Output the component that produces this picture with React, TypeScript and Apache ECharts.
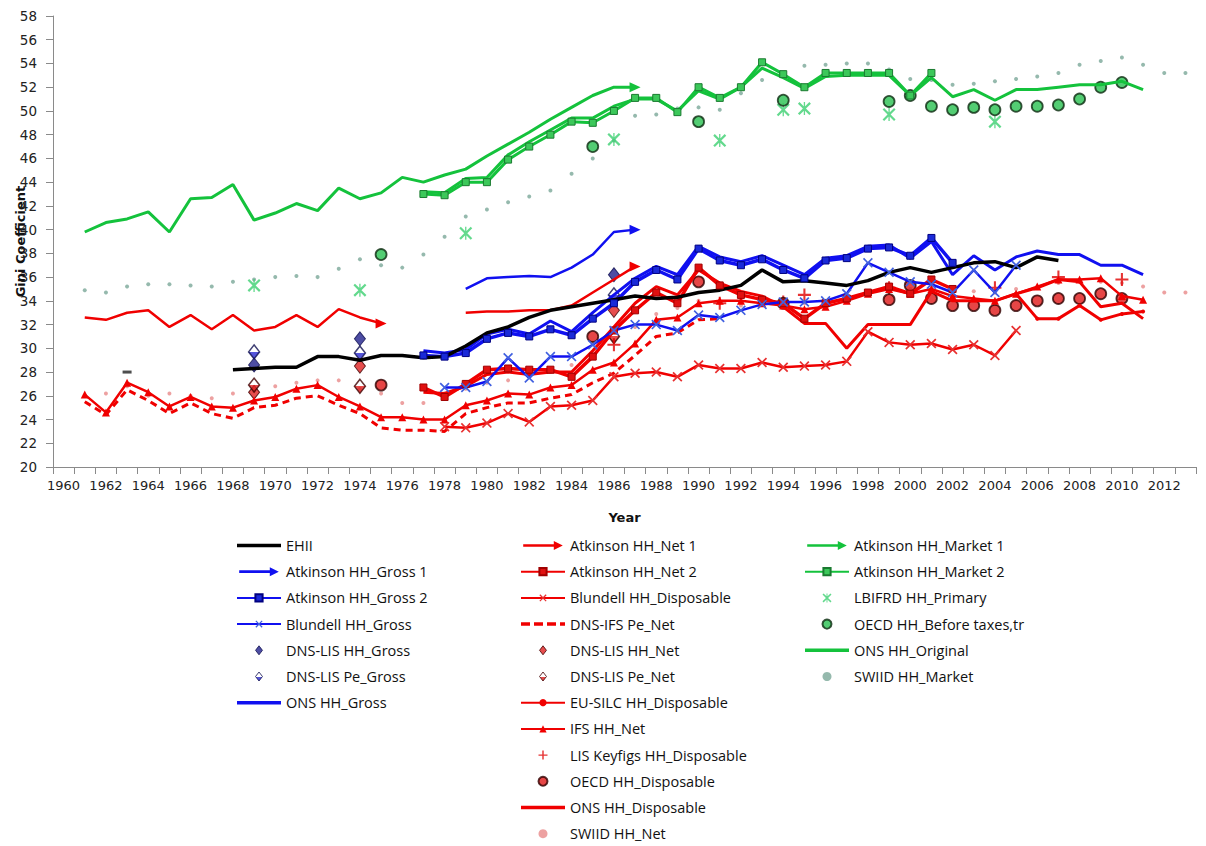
import React, { useEffect, useRef } from "react";
import * as echarts from "echarts";

const FIRST_YEAR = 1960;
const LAST_YEAR = 2013;
const years: string[] = [];
for (let y = FIRST_YEAR; y <= LAST_YEAR; y++) years.push(String(y));

// ---- Blue (gross) ----
const ehiiStart = 1968;
const ehii = [28.2, 28.3, 28.4, 28.4, 29.3, 29.3, 29.0, 29.4, 29.4, 29.2, 29.3, 30.2, 31.3, 31.8, 32.6, 33.2, 33.5, 33.8, 34.1, 34.4, 34.2, 34.3, 34.7, 34.9, 35.3, 36.6, 35.6, 35.7, 35.5, 35.3, 35.7, 36.4, 36.8, 36.4, 36.8, 37.2, 37.3, 36.8, 37.7, 37.4];
const ehiiIsolatedYears = [1963];
const ehiiIsolatedValues = [28.0];

const atkGross1Start = 1979;
const atkGross1 = [35.0, 35.9, 36.0, 36.1, 36.0, 36.8, 37.9, 39.8, 40.0];

const atkGross2Start = 1977;
const atkGross2 = [29.4, 29.3, 29.6, 30.8, 31.3, 31.0, 31.6, 31.1, 32.5, 33.8, 35.6, 36.6, 35.8, 38.4, 37.4, 37.0, 37.5, 36.6, 35.9, 37.4, 37.6, 38.4, 38.5, 37.8, 39.3, 37.2];

const blundellGrossStart = 1978;
const blundellGross = [26.7, 26.7, 27.2, 29.2, 27.5, 29.3, 29.3, 30.3, 31.5, 32.0, 32.0, 31.5, 32.8, 32.6, 33.2, 33.7, 33.9, 33.9, 34.0, 34.6, 37.2, 36.4, 35.6, 35.4, 34.7, 36.6, 34.7, 37.0];

const dnsLisHHGrossYears = [1969, 1974, 1986];
const dnsLisHHGross = [28.6, 30.8, 36.2];
const dnsLisPeGrossYears = [1969, 1974, 1986];
const dnsLisPeGross = [29.7, 29.6, 34.5];

const onsGrossStart = 1977;
const onsGross = [29.8, 29.6, 29.9, 31.2, 31.6, 31.2, 32.3, 31.4, 33.0, 34.5, 35.9, 36.9, 36.2, 38.6, 37.7, 37.3, 37.8, 37.0, 36.2, 37.6, 37.8, 38.6, 38.7, 37.6, 39.0, 36.2, 37.8, 36.6, 37.7, 38.2, 37.9, 37.9, 37.0, 37.0, 36.2];

// ---- Red (net / disposable) ----
const atkNet1Start = 1961;
const atkNet1 = [32.6, 32.4, 33.0, 33.2, 31.8, 32.8, 31.6, 32.8, 31.5, 31.8, 32.8, 31.8, 33.3, 32.6, 32.1, null, null, null, 33.0, 33.1, 33.1, 33.2, 33.2, 33.6, 34.7, 35.8, 36.9];

const atkNet2Start = 1977;
const atkNet2 = [26.7, 25.9, 27.0, 28.2, 28.3, 28.2, 28.2, 27.6, 29.3, 31.5, 33.2, 34.7, 33.8, 36.8, 35.3, 34.5, 34.1, 33.8, 32.5, 33.8, 34.2, 34.7, 35.2, 34.6, 35.8, 35.0];

const blundellDispStart = 1978;
const blundellDisp = [23.4, 23.3, 23.7, 24.5, 23.8, 25.1, 25.2, 25.6, 27.6, 27.9, 28.0, 27.6, 28.6, 28.3, 28.3, 28.8, 28.4, 28.5, 28.6, 28.9, 31.4, 30.5, 30.3, 30.4, 29.9, 30.3, 29.4, 31.5];

const dnsIfsPeNetStart = 1961;
const dnsIfsPeNet = [25.5, 24.4, 26.5, 25.6, 24.5, 25.4, 24.5, 24.1, 25.0, 25.2, 25.8, 26.0, 25.2, 24.5, 23.3, 23.1, 23.1, 23.0, 24.5, 25.0, 25.4, 25.4, 25.8, 26.1, 27.1, 27.9, 29.4, 31.0, 31.3, 32.4, 32.5];

const dnsLisHHNetYears = [1969, 1974, 1986];
const dnsLisHHNet = [26.3, 28.5, 33.2];
const dnsLisPeNetYears = [1969, 1974, 1986];
const dnsLisPeNet = [26.9, 26.8, 31.0];

const euSilcStart = 2005;
const euSilc = [34.6, 32.5, 32.5, 33.6, 32.4, 32.9, 33.1];

const ifsNetStart = 1961;
const ifsNet = [26.1, 24.6, 27.1, 26.3, 25.1, 25.9, 25.1, 25.0, 25.6, 25.9, 26.6, 26.9, 25.9, 25.1, 24.2, 24.2, 24.0, 24.0, 25.2, 25.6, 26.2, 26.1, 26.7, 26.9, 28.2, 28.8, 30.4, 32.4, 32.6, 33.8, 34.0, 34.0, 33.8, 33.6, 33.3, 33.5, 34.0, 34.6, 35.0, 34.6, 35.0, 34.4, 34.2, 34.0, 34.6, 35.2, 35.8, 35.8, 35.9, 34.4, 34.1];

const lisKeyfigsYears = [1986, 1991, 1994, 1995, 1999, 2004, 2007, 2010];
const lisKeyfigs = [30.3, 33.8, 33.9, 34.5, 35.1, 35.1, 36.0, 35.8];

const oecdDispYears = [1975, 1985, 1990, 1994, 1999, 2000, 2001, 2002, 2003, 2004, 2005, 2006, 2007, 2008, 2009, 2010];
const oecdDisp = [26.9, 31.0, 35.6, 33.8, 34.1, 35.3, 34.2, 33.6, 33.6, 33.2, 33.6, 34.0, 34.2, 34.2, 34.6, 34.2];

const onsDispStart = 1977;
const onsDisp = [26.3, 26.2, 26.8, 27.8, 28.0, 27.8, 28.0, 28.0, 29.8, 31.8, 33.8, 35.2, 34.5, 36.6, 35.5, 34.8, 34.4, 33.5, 32.1, 32.1, 30.0, 32.0, 32.0, 32.0, 34.8, 34.0, 34.0, 34.0, 34.6, 35.1, 35.8, 35.6, 33.5, 33.8, 32.5];

const swiidNetStart = 1961;
const swiidNet = [26.0, 26.2, 26.8, 26.0, 26.2, 26.0, 25.8, 26.2, 26.4, 26.8, 27.1, 27.3, 27.3, 26.6, 26.2, 25.4, 25.4, 26.2, 26.6, 27.1, 27.3, 27.8, 28.0, 28.6, 29.5, 30.6, 31.8, 32.9, 33.4, 34.0, 33.8, 33.6, 33.8, 34.0, 33.8, 34.0, 34.3, 34.5, 34.8, 35.0, 35.2, 35.0, 34.8, 34.8, 35.0, 35.2, 35.5, 35.6, 35.6, 35.5, 35.2, 34.7, 34.7];

// ---- Green (market / original) ----
const atkMarket1Start = 1961;
const atkMarket1 = [39.8, 40.6, 40.9, 41.5, 39.8, 42.6, 42.7, 43.8, 40.8, 41.4, 42.2, 41.6, 43.5, 42.6, 43.1, 44.4, 44.0, 44.6, 45.1, 46.2, 47.2, 48.2, 49.3, 50.3, 51.3, 52.0, 52.0];

const atkMarket2Start = 1977;
const atkMarket2 = [43.0, 42.9, 44.0, 44.0, 45.9, 47.0, 48.0, 49.1, 49.0, 50.0, 51.1, 51.1, 49.9, 52.0, 51.1, 52.0, 54.1, 53.1, 52.0, 53.2, 53.2, 53.2, 53.2, 51.3, 53.2];

const lbifrdYears = [1969, 1974, 1979, 1986, 1991, 1994, 1995, 1999, 2004];
const lbifrd = [35.3, 34.9, 39.7, 47.6, 47.5, 50.1, 50.2, 49.7, 49.1];

const oecdBeforeYears = [1975, 1985, 1990, 1994, 1999, 2000, 2001, 2002, 2003, 2004, 2005, 2006, 2007, 2008, 2009, 2010];
const oecdBefore = [37.9, 47.0, 49.1, 50.9, 50.8, 51.3, 50.4, 50.1, 50.3, 50.1, 50.4, 50.4, 50.5, 51.0, 52.0, 52.4];

const onsOriginalStart = 1977;
const onsOriginal = [43.2, 43.1, 44.3, 44.4, 46.3, 47.4, 48.4, 49.4, 49.4, 50.4, 51.0, 51.0, 50.0, 51.7, 51.0, 52.0, 53.6, 52.8, 51.9, 52.9, 53.0, 53.0, 53.0, 51.3, 52.8, 51.2, 51.8, 50.9, 51.8, 51.8, 52.0, 52.2, 52.2, 52.5, 51.8];

const swiidMarketStart = 1961;
const swiidMarket = [34.9, 34.7, 35.2, 35.4, 35.4, 35.3, 35.2, 35.6, 35.8, 36.0, 36.1, 36.0, 36.7, 37.5, 37.0, 36.8, 37.9, 39.4, 41.1, 41.7, 42.3, 42.8, 43.3, 44.7, 46.0, 47.5, 49.6, 49.7, 50.2, 50.3, 50.1, 51.5, 52.6, 53.2, 53.8, 53.9, 54.0, 54.0, 53.5, 52.7, 52.6, 52.2, 52.3, 52.5, 52.7, 52.9, 53.2, 53.9, 54.2, 54.5, 53.9, 53.2, 53.2];

const yTicks = { min: 20, max: 58, interval: 2 };

// ---- colours ----
const GREEN = "#14c23c";
const BLUE = "#1010f0";
const RED = "#f00000";
const BLACK = "#000000";

// ---- helpers ----
function place(start: number, values: (number | null)[]): (number | null)[] {
  const arr: (number | null)[] = years.map(() => null);
  values.forEach((v, i) => {
    arr[start - FIRST_YEAR + i] = v;
  });
  return arr;
}
function withArrows(arr: (number | null)[]) {
  return arr.map((v, i) => {
    if (v == null) return null;
    const next = i + 1 < arr.length ? arr[i + 1] : null;
    if (next == null) {
      return { value: v, symbol: "triangle", symbolSize: [10, 11], symbolRotate: -90 };
    }
    return v;
  });
}
function pts(yrs: number[], vals: number[]) {
  return yrs.map((y, i) => [String(y), vals[i]]);
}
function consecutive(start: number, count: number): number[] {
  const out: number[] = [];
  for (let i = 0; i < count; i++) out.push(start + i);
  return out;
}

const X_SYM = "path://M0,1.2L1.2,0L5,3.8L8.8,0L10,1.2L6.2,5L10,8.8L8.8,10L5,6.2L1.2,10L0,8.8L3.8,5Z";
const PLUS_SYM = "path://M4.2,0H5.8V4.2H10V5.8H5.8V10H4.2V5.8H0V4.2H4.2Z";
const AST_SYM = "path://M4.5,0H5.5V10H4.5Z M0,1.2L1.2,0L5,3.8L8.8,0L10,1.2L6.2,5L10,8.8L8.8,10L5,6.2L1.2,10L0,8.8L3.8,5Z";
const ARROW_ICON = "path://M0,3.5L34,3.5L34,0L44,5L34,10L34,6.5L0,6.5Z";
const LINE_ICON = "path://M0,0H44V3.5H0Z";
const DASH_ICON = "path://M0,0H9V3.5H0Z M13,0H22V3.5H13Z M26,0H35V3.5H26Z M39,0H44V3.5H39Z";
const DIAMOND_ICON = "path://M5,0L10,6.5L5,13L0,6.5Z";

function halfFill(top: string, bottom: string) {
  return new echarts.graphic.LinearGradient(0, 0, 0, 1, [
    { offset: 0, color: top },
    { offset: 0.5, color: top },
    { offset: 0.5, color: bottom },
    { offset: 1, color: bottom },
  ]);
}

function lineSeries(name: string, color: string, data: any[], extra: any = {}) {
  const { lineStyle, itemStyle, ...rest } = extra;
  return {
    type: "line",
    name,
    data,
    color,
    symbol: "none",
    showSymbol: true,
    connectNulls: false,
    lineStyle: { width: 3, color, ...(lineStyle || {}) },
    itemStyle: { color, ...(itemStyle || {}) },
    ...rest,
  };
}
function scatterSeries(name: string, color: string, data: any[], symbol: string, size: any, itemStyle: any = {}) {
  return {
    type: "scatter",
    name,
    data,
    color,
    symbol,
    symbolSize: size,
    itemStyle: { color, ...itemStyle },
  };
}

export default function App() {
  const ref = useRef<HTMLDivElement>(null);

  useEffect(() => {
    document.body.style.margin = "0";
    if (!ref.current) return;
    const chart = echarts.init(ref.current, undefined, { renderer: "svg" });

    const series: any[] = [
      lineSeries("DNS-IFS Pe_Net", RED, place(dnsIfsPeNetStart, dnsIfsPeNet), { lineStyle: { type: [7, 5], width: 3 } }),
      lineSeries("IFS HH_Net", RED, place(ifsNetStart, ifsNet), { symbol: "triangle", symbolSize: 8, lineStyle: { width: 2.5 } }),
      lineSeries("Blundell HH_Disposable", RED, place(blundellDispStart, blundellDisp), { symbol: X_SYM, symbolSize: 10, lineStyle: { width: 2.5 }, itemStyle: { color: "#e83030" } }),
      lineSeries("Atkinson HH_Net 1", RED, withArrows(place(atkNet1Start, atkNet1)), { symbolSize: 0, lineStyle: { width: 2.5 } }),
      lineSeries("Atkinson HH_Net 2", RED, place(atkNet2Start, atkNet2), { symbol: "rect", symbolSize: 7, lineStyle: { width: 3.5 }, itemStyle: { color: "#e01010", borderColor: "#a00000", borderWidth: 1 } }),
      lineSeries("ONS HH_Disposable", RED, place(onsDispStart, onsDisp), { lineStyle: { width: 3 } }),
      lineSeries("EU-SILC HH_Disposable", RED, place(euSilcStart, euSilc), { symbol: "circle", symbolSize: 4, lineStyle: { width: 3 } }),
      scatterSeries("SWIID HH_Net", "#e88a8a", pts(consecutive(swiidNetStart, swiidNet.length), swiidNet), "circle", 4),
      lineSeries("Blundell HH_Gross", BLUE, place(blundellGrossStart, blundellGross), { symbol: X_SYM, symbolSize: 10, lineStyle: { width: 2.5 }, itemStyle: { color: "#4060e0" } }),
      lineSeries("Atkinson HH_Gross 2", BLUE, place(atkGross2Start, atkGross2), { symbol: "rect", symbolSize: 7, lineStyle: { width: 3.5 }, itemStyle: { color: "#1a2ad8", borderColor: "#000080", borderWidth: 1 } }),
      lineSeries("ONS HH_Gross", BLUE, place(onsGrossStart, onsGross), { lineStyle: { width: 3 } }),
      lineSeries("Atkinson HH_Gross 1", BLUE, withArrows(place(atkGross1Start, atkGross1)), { symbolSize: 0, lineStyle: { width: 2.5 } }),
      lineSeries("EHII", BLACK, place(ehiiStart, ehii), { lineStyle: { width: 3.5 } }),
      {
        type: "scatter",
        name: "EHII",
        data: pts(ehiiIsolatedYears, ehiiIsolatedValues),
        symbol: "rect",
        symbolSize: [9, 3],
        itemStyle: { color: "#222" },
      },
      scatterSeries("SWIID HH_Market", "#7aa898", pts(consecutive(swiidMarketStart, swiidMarket.length), swiidMarket), "circle", 4),
      lineSeries("Atkinson HH_Market 1", GREEN, withArrows(place(atkMarket1Start, atkMarket1)), { symbolSize: 0, lineStyle: { width: 3 } }),
      lineSeries("ONS HH_Original", GREEN, place(onsOriginalStart, onsOriginal), { lineStyle: { width: 3 } }),
      lineSeries("Atkinson HH_Market 2", GREEN, place(atkMarket2Start, atkMarket2), { symbol: "rect", symbolSize: 7, lineStyle: { width: 3 }, itemStyle: { color: "#3cc85a", borderColor: "#1a7a30", borderWidth: 1 } }),
      scatterSeries("LBIFRD HH_Primary", "#3ccf70", pts(lbifrdYears, lbifrd), AST_SYM, 13),
      scatterSeries("OECD HH_Before taxes,tr", "#28c050", pts(oecdBeforeYears, oecdBefore), "circle", 11, { borderColor: "#0c2a10", borderWidth: 1.8 }),
      scatterSeries("DNS-LIS HH_Gross", "#20208c", pts(dnsLisHHGrossYears, dnsLisHHGross), "diamond", [11, 14], { borderColor: "#101050", borderWidth: 1 }),
      scatterSeries("DNS-LIS Pe_Gross", "#20208c", pts(dnsLisPeGrossYears, dnsLisPeGross), "diamond", [11, 14], { color: halfFill("#ffffff", "#2a2ad0"), borderColor: "#101050", borderWidth: 1.5 }),
      scatterSeries("DNS-LIS HH_Net", "#c01818", pts(dnsLisHHNetYears, dnsLisHHNet), "diamond", [11, 14], { color: "#e02020", borderColor: "#400000", borderWidth: 1 }),
      scatterSeries("DNS-LIS Pe_Net", "#c01818", pts(dnsLisPeNetYears, dnsLisPeNet), "diamond", [11, 14], { color: halfFill("#ffffff", "#e02020"), borderColor: "#400000", borderWidth: 1.5 }),
      scatterSeries("LIS Keyfigs HH_Disposable", "#e00000", pts(lisKeyfigsYears, lisKeyfigs), PLUS_SYM, 13),
      scatterSeries("OECD HH_Disposable", "#e01818", pts(oecdDispYears, oecdDisp), "circle", 11, { borderColor: "#300000", borderWidth: 1.8 }),
    ];

    const col1 = [
      { name: "EHII", icon: LINE_ICON },
      { name: "Atkinson HH_Gross 1", icon: ARROW_ICON },
      { name: "Atkinson HH_Gross 2" },
      { name: "Blundell HH_Gross" },
      { name: "DNS-LIS HH_Gross", icon: DIAMOND_ICON, itemStyle: { borderWidth: 1 } },
      { name: "DNS-LIS Pe_Gross", icon: DIAMOND_ICON, itemStyle: { borderWidth: 1 } },
      { name: "ONS HH_Gross", icon: LINE_ICON },
    ];
    const col2 = [
      { name: "Atkinson HH_Net 1", icon: ARROW_ICON },
      { name: "Atkinson HH_Net 2" },
      { name: "Blundell HH_Disposable" },
      { name: "DNS-IFS Pe_Net", icon: DASH_ICON },
      { name: "DNS-LIS HH_Net", icon: DIAMOND_ICON, itemStyle: { borderWidth: 1 } },
      { name: "DNS-LIS Pe_Net", icon: DIAMOND_ICON, itemStyle: { borderWidth: 1 } },
      { name: "EU-SILC HH_Disposable" },
      { name: "IFS HH_Net" },
      { name: "LIS Keyfigs HH_Disposable" },
      { name: "OECD HH_Disposable" },
      { name: "ONS HH_Disposable", icon: LINE_ICON },
      { name: "SWIID HH_Net" },
    ];
    const col3 = [
      { name: "Atkinson HH_Market 1", icon: ARROW_ICON },
      { name: "Atkinson HH_Market 2" },
      { name: "LBIFRD HH_Primary" },
      { name: "OECD HH_Before taxes,tr" },
      { name: "ONS HH_Original", icon: LINE_ICON },
      { name: "SWIID HH_Market" },
    ];
    const legendBase = {
      orient: "vertical",
      top: 538,
      padding: 0,
      height: 308,
      itemGap: 11.2,
      itemWidth: 44,
      itemHeight: 9,
      symbolKeepAspect: true,
      selectedMode: false,
      textStyle: { fontFamily: "Open Sans", fontSize: 14.5, color: "#111", lineHeight: 15 },
    };

    chart.setOption({
      animation: false,
      backgroundColor: "#ffffff",
      grid: { left: 53, top: 16, width: 1143, height: 451, containLabel: false, outerBoundsMode: "none" },
      legend: [
        { ...legendBase, left: 236, data: col1 },
        { ...legendBase, left: 520, data: col2 },
        { ...legendBase, left: 804, data: col3 },
      ],
      xAxis: {
        type: "category",
        data: years,
        boundaryGap: true,
        name: "Year",
        nameLocation: "middle",
        nameGap: 44,
        nameTextStyle: { fontFamily: "DejaVu Sans", fontSize: 13, fontWeight: "bold", color: "#111" },
        axisLine: { lineStyle: { color: "#8a8a8a", width: 1 } },
        axisTick: { show: true, interval: 0, alignWithLabel: false, length: 7, lineStyle: { color: "#8a8a8a" } },
        axisLabel: { interval: 1, fontFamily: "DejaVu Sans", fontSize: 13, color: "#222", margin: 12 },
        splitLine: { show: false },
      },
      yAxis: {
        type: "value",
        min: yTicks.min,
        max: yTicks.max,
        interval: yTicks.interval,
        name: "Gini Coefficient",
        nameLocation: "middle",
        nameGap: 26,
        nameMoveOverlap: false,
        nameRotate: 90,
        nameTextStyle: { fontFamily: "DejaVu Sans", fontSize: 13, fontWeight: "bold", color: "#111" },
        axisLine: { show: true, lineStyle: { color: "#8a8a8a", width: 1 } },
        axisTick: { show: true, length: 7, lineStyle: { color: "#8a8a8a" } },
        axisLabel: { fontFamily: "DejaVu Sans", fontSize: 13.5, color: "#222", margin: 16 },
        splitLine: { show: false },
      },
      series,
    });

    return () => {
      chart.dispose();
    };
  }, []);

  return <div ref={ref} style={{ width: 1206, height: 846 }} />;
}
